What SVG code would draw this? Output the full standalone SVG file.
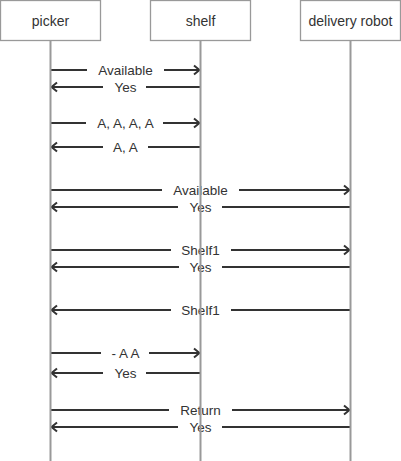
<svg xmlns="http://www.w3.org/2000/svg" width="401" height="461" viewBox="0 0 401 461">
<style>
.box{fill:#fff;stroke:#999;stroke-width:1.3}
.life{stroke:#999;stroke-width:2}
.msg{stroke:#333;stroke-width:2;fill:none}
.bg{fill:#fff}
.t{font-family:"Liberation Sans",Arial,sans-serif;fill:#333;text-anchor:middle}
.nt{font-size:14px}
.mt{font-size:13.5px}
</style>
<defs>
<marker id="ah" viewBox="0 0 10 12" refX="9" refY="6" markerWidth="10" markerHeight="12" markerUnits="userSpaceOnUse" orient="auto">
<path d="M3,1.5 L8.5,6 L3,10.5" fill="none" stroke="#333" stroke-width="2"/>
</marker>
</defs>
<rect width="401" height="461" fill="#fff"/>
<g id="connectors">
<line class="msg" x1="50.5" y1="70" x2="200" y2="70" marker-end="url(#ah)"/>
<rect class="bg" x="87" y="62" width="77" height="16"/>
<text class="t mt" x="125.5" y="74.5">Available</text>
<line class="msg" x1="200.5" y1="87" x2="51" y2="87" marker-end="url(#ah)"/>
<rect class="bg" x="103" y="79" width="43" height="16"/>
<text class="t mt" x="125.5" y="91.5">Yes</text>

<line class="msg" x1="50.5" y1="123" x2="200" y2="123" marker-end="url(#ah)"/>
<rect class="bg" x="86" y="115" width="77" height="16"/>
<text class="t mt" x="125.5" y="127.5">A, A, A, A</text>
<line class="msg" x1="200.5" y1="147" x2="51" y2="147" marker-end="url(#ah)"/>
<rect class="bg" x="103" y="139" width="45" height="16"/>
<text class="t mt" x="125.5" y="151.5">A, A</text>

<line class="msg" x1="50.5" y1="190" x2="350" y2="190" marker-end="url(#ah)"/>
<rect class="bg" x="162" y="182" width="77" height="16"/>
<text class="t mt" x="200.5" y="194.5">Available</text>
<line class="msg" x1="350.5" y1="207" x2="51" y2="207" marker-end="url(#ah)"/>
<rect class="bg" x="178" y="199" width="44" height="16"/>
<text class="t mt" x="200.5" y="211.5">Yes</text>

<line class="msg" x1="50.5" y1="250" x2="350" y2="250" marker-end="url(#ah)"/>
<rect class="bg" x="171" y="242" width="60" height="16"/>
<text class="t mt" x="200.5" y="254.5">Shelf1</text>
<line class="msg" x1="350.5" y1="267" x2="51" y2="267" marker-end="url(#ah)"/>
<rect class="bg" x="179" y="259" width="43" height="16"/>
<text class="t mt" x="200.5" y="271.5">Yes</text>

<line class="msg" x1="350.5" y1="310" x2="51" y2="310" marker-end="url(#ah)"/>
<rect class="bg" x="171" y="302" width="60" height="16"/>
<text class="t mt" x="200.5" y="314.5">Shelf1</text>

<line class="msg" x1="50.5" y1="353" x2="200" y2="353" marker-end="url(#ah)"/>
<rect class="bg" x="101" y="345" width="48" height="16"/>
<text class="t mt" x="125.5" y="357.5">- A A</text>
<line class="msg" x1="200.5" y1="373" x2="51" y2="373" marker-end="url(#ah)"/>
<rect class="bg" x="103" y="365" width="43" height="16"/>
<text class="t mt" x="125.5" y="377.5">Yes</text>

<line class="msg" x1="50.5" y1="410" x2="350" y2="410" marker-end="url(#ah)"/>
<rect class="bg" x="169" y="402" width="63" height="16"/>
<text class="t mt" x="200.5" y="414.5">Return</text>
<line class="msg" x1="350.5" y1="427" x2="51" y2="427" marker-end="url(#ah)"/>
<rect class="bg" x="178" y="419" width="44" height="16"/>
<text class="t mt" x="200.5" y="431.5">Yes</text>
</g>
<g id="picker">
<rect class="box" x="0.5" y="0.5" width="100" height="40"/>
<text class="t nt" x="50.5" y="25.5">picker</text>
<line class="life" x1="50.5" y1="41" x2="50.5" y2="461"/>
</g>
<g id="shelf">
<rect class="box" x="150.5" y="0.5" width="100" height="40"/>
<text class="t nt" x="200.5" y="25.5">shelf</text>
<line class="life" x1="200.5" y1="41" x2="200.5" y2="461"/>
</g>
<g id="delivery-robot">
<rect class="box" x="300.5" y="0.5" width="100" height="40"/>
<text class="t nt" x="350.5" y="25.5">delivery robot</text>
<line class="life" x1="350.5" y1="41" x2="350.5" y2="461"/>
</g>
</svg>
